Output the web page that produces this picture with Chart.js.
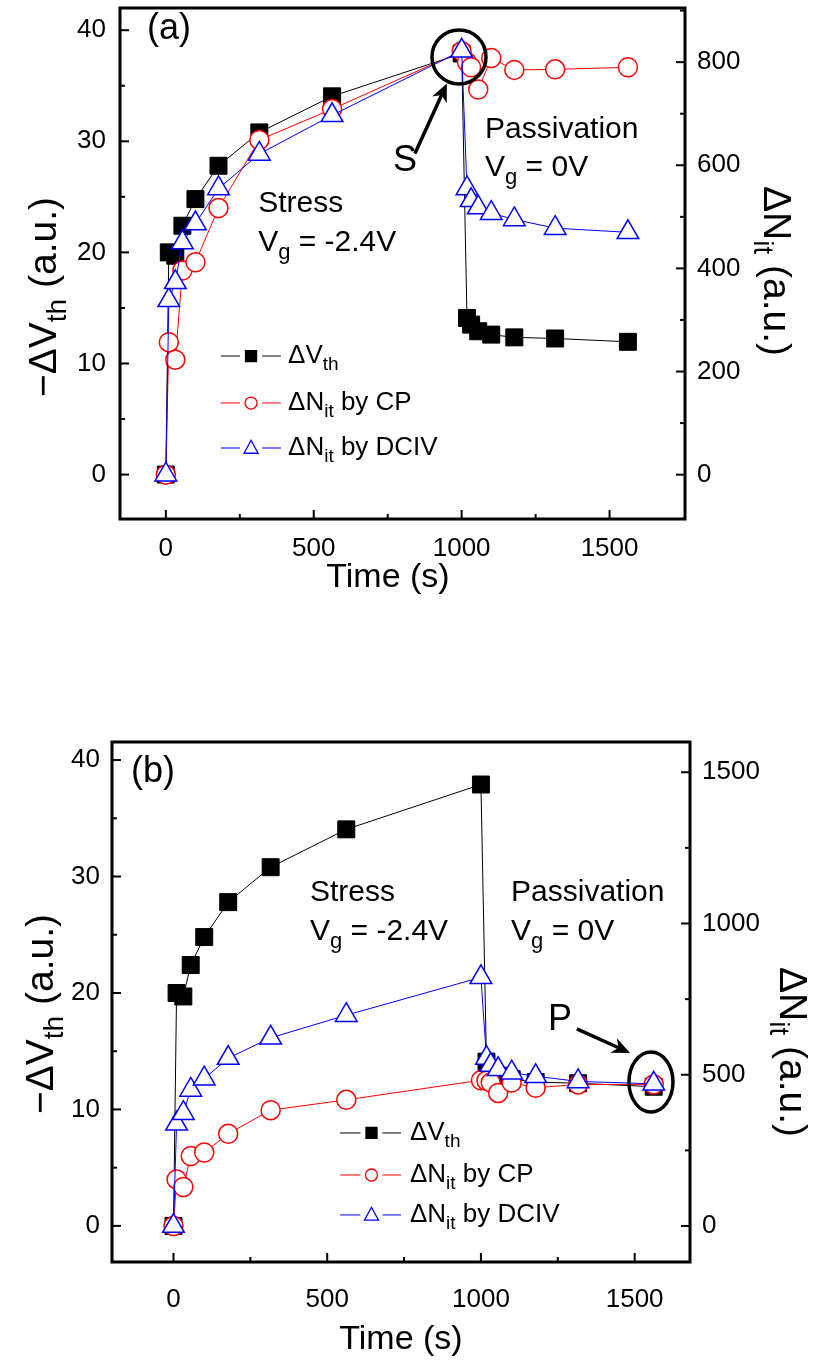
<!DOCTYPE html>
<html>
<head>
<meta charset="utf-8">
<script src="https://cdn.jsdelivr.net/npm/chart.js@4.4.1/dist/chart.umd.min.js"></script>
<style>
  html, body { margin: 0; padding: 0; background: #fff; }
  #wrap { position: relative; width: 815px; height: 1365px; }
  .panel { position: absolute; left: 0; width: 815px; }
  #panelA { top: 0; height: 610px; }
  #panelB { top: 700px; height: 665px; }
</style>
</head>
<body>
<div id="wrap">
  <div class="panel" id="panelA"><canvas id="chartA"></canvas></div>
  <div class="panel" id="panelB"><canvas id="chartB"></canvas></div>
</div>
<script>
// ---- data ----
// time (s): stress up to 1000 s, then passivation
const timeS = [0, 10, 32, 56, 100, 178, 316, 562, 1000, 1018, 1032, 1056, 1100, 1178, 1316, 1562];
// -dVth (a.u.), same in both panels
const dVth = [0, 20.0, 19.7, 22.4, 24.8, 27.8, 30.8, 34.05, 37.9, 14.1, 13.5, 12.9, 12.6, 12.35, 12.25, 11.95];
// dNit panel (a)
const nitCpA = [0, 257, 223, 396, 412, 517, 649, 709, 821, 800, 790, 747, 808, 785, 786, 790];
const nitDcivA = [0, 338, 373, 450, 487, 555, 622, 697, 822, 555, 532, 518, 507, 495, 478, 470];
// dNit panel (b)
const nitCpB = [0, 154, 129, 231, 243, 305, 383, 417, 482, 480, 474, 440, 474, 457, 468, 468];
const nitDcivB = [0, 338, 373, 450, 487, 555, 622, 697, 822, 555, 532, 518, 507, 495, 478, 470];

// ticks
const xTicks = [0, 500, 1000, 1500];
const xMinor = [250, 750, 1250];
const yTicksL = [0, 10, 20, 30, 40];
const yMinorL = [5, 15, 25, 35];
const yTicksRA = [0, 200, 400, 600, 800];
const yMinorRA = [100, 300, 500, 700, 900];
const yTicksRB = [0, 500, 1000, 1500];
const yMinorRB = [250, 750, 1250];

const FONT = '"Liberation Sans", Arial, Helvetica, sans-serif';
const RED = '#ff0000';
const BLUE = '#0000ff';

function pts(xs, ys) {
    return xs.map((x, i) => ({ x: x, y: ys[i] }));
}

// draw text made of pieces (for subscripts)
function rich(ctx, parts, x, y, angle, align) {
    ctx.save();
    ctx.translate(x, y);
    ctx.rotate(angle || 0);
    ctx.textBaseline = 'middle';
    ctx.textAlign = 'left';
    ctx.fillStyle = '#000';
    let w = 0;
    parts.forEach(p => {
        ctx.font = p.size + 'px ' + FONT;
        p.w = ctx.measureText(p.t).width;
        w += p.w;
    });
    let cx = align === 'center' ? -w / 2 : 0;
    parts.forEach(p => {
        ctx.font = p.size + 'px ' + FONT;
        ctx.fillText(p.t, cx, p.dy || 0);
        cx += p.w;
    });
    ctx.restore();
}

function sub(main, s, size, rest) {
    const arr = [{ t: main, size: size }, { t: s, size: Math.round(size * 0.72), dy: size * 0.34 }];
    if (rest) arr.push({ t: rest, size: size });
    return arr;
}

function marker(ctx, style, x, y, r, fill, stroke, lw) {
    ctx.save();
    ctx.lineWidth = lw;
    ctx.strokeStyle = stroke;
    ctx.fillStyle = fill;
    ctx.beginPath();
    if (style === 'rect') {
        ctx.rect(x - r, y - r, 2 * r, 2 * r);
    } else if (style === 'circle') {
        ctx.arc(x, y, r, 0, Math.PI * 2);
    } else {
        ctx.moveTo(x, y - r * 1.1);
        ctx.lineTo(x + r, y + r * 0.75);
        ctx.lineTo(x - r, y + r * 0.75);
        ctx.closePath();
    }
    ctx.fill();
    ctx.stroke();
    ctx.restore();
}

function arrow(ctx, x1, y1, x2, y2) {
    const a = Math.atan2(y2 - y1, x2 - x1);
    const L = 18, W = 8;
    ctx.save();
    ctx.strokeStyle = '#000';
    ctx.fillStyle = '#000';
    ctx.lineWidth = 3.5;
    ctx.beginPath();
    ctx.moveTo(x1, y1);
    ctx.lineTo(x2 - Math.cos(a) * L * 0.7, y2 - Math.sin(a) * L * 0.7);
    ctx.stroke();
    ctx.beginPath();
    ctx.moveTo(x2, y2);
    ctx.lineTo(x2 - Math.cos(a) * L - Math.sin(a) * W, y2 - Math.sin(a) * L + Math.cos(a) * W);
    ctx.lineTo(x2 - Math.cos(a) * L * 0.7, y2 - Math.sin(a) * L * 0.7);
    ctx.lineTo(x2 - Math.cos(a) * L + Math.sin(a) * W, y2 - Math.sin(a) * L - Math.cos(a) * W);
    ctx.closePath();
    ctx.fill();
    ctx.restore();
}

// frame, inward ticks, titles, legend and notes
function makeDecor(P) {
    return {
        id: 'decor',
        afterDraw(chart) {
            const ctx = chart.ctx;
            const a = chart.chartArea;
            const sx = chart.scales.x, sl = chart.scales.yL, sr = chart.scales.yR;
            const X = v => sx.getPixelForValue(v);
            const Y = v => sl.getPixelForValue(v);

            ctx.save();
            ctx.strokeStyle = '#000';
            ctx.lineWidth = 2;
            const tk = (scale, vals, len, side) => vals.forEach(v => {
                const q = scale.getPixelForValue(v);
                ctx.beginPath();
                if (side === 'b') { ctx.moveTo(q, a.bottom); ctx.lineTo(q, a.bottom - len); }
                if (side === 'l') { ctx.moveTo(a.left, q); ctx.lineTo(a.left + len, q); }
                if (side === 'r') { ctx.moveTo(a.right, q); ctx.lineTo(a.right - len, q); }
                ctx.stroke();
            });
            tk(sx, xTicks, 9, 'b');
            tk(sx, xMinor, 5, 'b');
            tk(sl, yTicksL, 9, 'l');
            tk(sl, yMinorL, 5, 'l');
            tk(sr, P.rTicks, 9, 'r');
            tk(sr, P.rMinor, 5, 'r');
            ctx.lineWidth = 3;
            ctx.strokeRect(a.left, a.top, a.right - a.left, a.bottom - a.top);
            ctx.restore();

            // axis titles
            rich(ctx, sub('\u2212\u0394V', 'th', 39, ' (a.u.)'), P.yTitle[0], P.yTitle[1], -Math.PI / 2, 'center');
            rich(ctx, sub('\u0394N', 'it', 39, ' (a.u.)'), P.rTitle[0], P.rTitle[1], Math.PI / 2, 'center');
            rich(ctx, [{ t: 'Time (s)', size: 34 }], P.xTitle[0], P.xTitle[1], 0, 'center');

            // notes in data coordinates
            P.notes.forEach(n => rich(ctx, n.parts, X(n.t), Y(n.v), 0, 'left'));
            arrow(ctx, X(P.arrow[0]), Y(P.arrow[1]), X(P.arrow[2]), Y(P.arrow[3]));
            ctx.save();
            ctx.lineWidth = 3.5;
            ctx.strokeStyle = '#000';
            ctx.beginPath();
            ctx.ellipse(X(P.ring[0]), Y(P.ring[1]), P.ring[2], P.ring[3], 0, 0, Math.PI * 2);
            ctx.stroke();
            ctx.restore();

            // legend
            const L = P.legend;
            const styles = [
                { st: 'rect', r: 5.5, fill: '#000', col: '#000', text: sub('\u0394V', 'th', 26) },
                { st: 'circle', r: 6, fill: '#fff', col: RED, text: sub('\u0394N', 'it', 26, ' by CP') },
                { st: 'tri', r: 7, fill: '#fff', col: BLUE, text: sub('\u0394N', 'it', 26, ' by DCIV') }
            ];
            styles.forEach((s, i) => {
                const y = Y(L.rows[i]);
                const xm = X(L.mark);
                ctx.save();
                ctx.strokeStyle = s.col;
                ctx.lineWidth = 1;
                ctx.beginPath();
                ctx.moveTo(X(L.from), y); ctx.lineTo(xm - 11, y);
                ctx.moveTo(xm + 11, y); ctx.lineTo(X(L.to), y);
                ctx.stroke();
                ctx.restore();
                marker(ctx, s.st, xm, y, s.r, s.fill, s.col, 1.3);
                rich(ctx, s.text, X(L.text), y, 0, 'left');
            });
        }
    };
}

function makePanel(id, P) {
    const tickFont = { family: FONT, size: 26 };
    const fixTicks = vals => s => { s.ticks = vals.map(v => ({ value: v })); };
    const lbl = v => String(v);
    const noPad = s => { s.paddingTop = 0; s.paddingBottom = 0; s.paddingLeft = 0; s.paddingRight = 0; };
    return new Chart(document.getElementById(id), {
        type: 'line',
        data: {
            datasets: [
                {
                    label: '\u0394Vth', data: pts(timeS, dVth), yAxisID: 'yL',
                    borderColor: '#000', borderWidth: 1, pointStyle: 'rect', pointRadius: 12,
                    pointBackgroundColor: '#000', pointBorderColor: '#000', pointBorderWidth: 1, order: 3
                },
                {
                    label: '\u0394Nit by CP', data: pts(timeS, P.cp), yAxisID: 'yR',
                    borderColor: RED, borderWidth: 1, pointStyle: 'circle', pointRadius: 9.5,
                    pointBackgroundColor: '#fff', pointBorderColor: RED, pointBorderWidth: 1.5, order: 2
                },
                {
                    label: '\u0394Nit by DCIV', data: pts(timeS, P.dciv), yAxisID: 'yR',
                    borderColor: BLUE, borderWidth: 1, pointStyle: 'triangle', pointRadius: 12.5,
                    pointBackgroundColor: '#fff', pointBorderColor: BLUE, pointBorderWidth: 1.5, order: 1
                }
            ]
        },
        options: {
            responsive: true,
            maintainAspectRatio: false,
            animation: false,
            layout: { autoPadding: false, padding: { top: P.padTop, left: 0, right: 0, bottom: 0 } },
            plugins: { legend: { display: false }, tooltip: { enabled: false } },
            scales: {
                x: {
                    type: 'linear', min: P.xMin, max: P.xMax,
                    afterBuildTicks: fixTicks(xTicks),
                    afterFit: s => { noPad(s); s.height = P.xAxisH; },
                    grid: { display: false, drawTicks: false }, border: { display: false },
                    ticks: { font: tickFont, color: '#000', padding: P.xPad, maxRotation: 0, autoSkip: false, callback: lbl }
                },
                yL: {
                    type: 'linear', position: 'left', min: P.yMin, max: P.yMax,
                    afterBuildTicks: fixTicks(yTicksL),
                    afterFit: s => { noPad(s); s.width = P.leftW; },
                    grid: { display: false, drawTicks: false }, border: { display: false },
                    ticks: { font: tickFont, color: '#000', padding: P.lPad, autoSkip: false, callback: lbl }
                },
                yR: {
                    type: 'linear', position: 'right', min: P.rMin, max: P.rMax,
                    afterBuildTicks: fixTicks(P.rTicks),
                    afterFit: s => { noPad(s); s.width = P.rightW; },
                    grid: { display: false, drawTicks: false }, border: { display: false },
                    ticks: { font: tickFont, color: '#000', padding: 12, autoSkip: false, callback: lbl }
                }
            }
        },
        plugins: [makeDecor(P)]
    });
}

makePanel('chartA', {
    cp: nitCpA, dciv: nitDcivA,
    padTop: 8, xAxisH: 91, leftW: 120, rightW: 130, lPad: 14, xPad: 14,
    xMin: -155, xMax: 1755, yMin: -4, yMax: 42, rMin: -86, rMax: 905,
    rTicks: yTicksRA, rMinor: yMinorRA,
    yTitle: [45, 297], rTitle: [775, 271], xTitle: [388, 578],
    notes: [
        { t: -64, v: 40.1, parts: [{ t: '(a)', size: 36 }] },
        { t: 312, v: 24.4, parts: [{ t: 'Stress', size: 30 }] },
        { t: 312, v: 20.85, parts: sub('V', 'g', 30, ' = -2.4V') },
        { t: 1079, v: 31.0, parts: [{ t: 'Passivation', size: 30 }] },
        { t: 1079, v: 27.6, parts: sub('V', 'g', 30, ' = 0V') },
        { t: 768, v: 28.2, parts: [{ t: 'S', size: 36 }] }
    ],
    arrow: [842, 28.9, 950, 35.2],
    ring: [991, 37.6, 27, 27],
    legend: { from: 186, to: 389, mark: 288, text: 413, rows: [10.67, 6.44, 2.39] }
});

makePanel('chartB', {
    cp: nitCpB, dciv: nitDcivB,
    padTop: 42, xAxisH: 103, leftW: 112, rightW: 125, lPad: 12, xPad: 22,
    xMin: -200, xMax: 1680, yMin: -3.1, yMax: 41.55, rMin: -119, rMax: 1600,
    rTicks: yTicksRB, rMinor: yMinorRB,
    yTitle: [42, 314], rTitle: [791, 352], xTitle: [401, 640],
    notes: [
        { t: -138, v: 38.97, parts: [{ t: '(b)', size: 36 }] },
        { t: 444, v: 28.58, parts: [{ t: 'Stress', size: 30 }] },
        { t: 444, v: 25.24, parts: sub('V', 'g', 30, ' = -2.4V') },
        { t: 1098, v: 28.58, parts: [{ t: 'Passivation', size: 30 }] },
        { t: 1098, v: 25.24, parts: sub('V', 'g', 30, ' = 0V') },
        { t: 1218, v: 17.68, parts: [{ t: 'P', size: 36 }] }
    ],
    arrow: [1312, 16.91, 1485, 14.85],
    ring: [1553, 12.36, 22, 30],
    legend: { from: 542, to: 740, mark: 644, text: 769, rows: [7.98, 4.37, 0.94] }
});
</script>
</body>
</html>
